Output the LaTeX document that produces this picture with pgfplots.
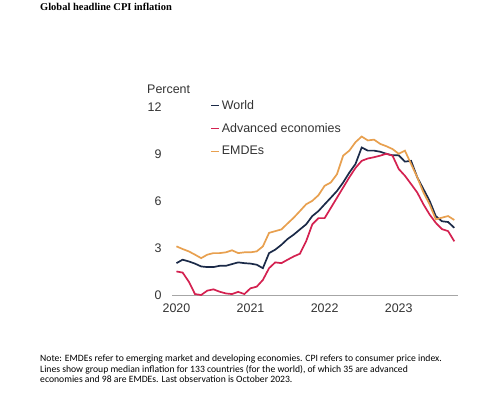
\documentclass[border=0pt]{standalone}
\usepackage{fontspec}
\setmainfont{Liberation Sans}
\newfontfamily\titlefont{Liberation Serif}
\newfontfamily\notefont{Carlito}
\usepackage{pgfplots}
\pgfplotsset{compat=1.18}
\usepackage{pgfplotstable}
\definecolor{world}{HTML}{1B2A48}
\definecolor{adv}{HTML}{D42150}
\definecolor{emde}{HTML}{E8A04F}
\definecolor{tickc}{HTML}{333333}

\pgfplotstableread{
m world adv emde
0 2.03 1.50 3.10
1 2.25 1.43 2.93
2 2.14 0.85 2.78
3 2.00 0.06 2.57
4 1.82 0.00 2.35
5 1.78 0.28 2.57
6 1.78 0.36 2.67
7 1.86 0.21 2.67
8 1.86 0.10 2.72
9 1.97 0.06 2.85
10 2.08 0.20 2.67
11 2.03 0.06 2.72
12 2.00 0.43 2.72
13 1.93 0.53 2.78
14 1.71 0.96 3.10
15 2.67 1.71 3.96
16 2.89 2.08 4.07
17 3.20 2.03 4.18
18 3.57 2.25 4.56
19 3.85 2.46 4.93
20 4.18 2.63 5.35
21 4.50 3.42 5.78
22 5.03 4.50 6.00
23 5.35 4.90 6.36
24 5.78 4.90 6.96
25 6.20 5.55 7.17
26 6.63 6.20 7.70
27 7.17 6.85 8.88
28 7.80 7.50 9.20
29 8.35 8.10 9.74
30 9.40 8.55 10.10
31 9.20 8.70 9.85
32 9.20 8.78 9.90
33 9.13 8.88 9.63
34 9.00 9.00 9.48
35 8.90 8.88 9.30
36 8.90 8.03 9.00
37 8.50 7.60 9.20
38 8.55 7.07 8.35
39 7.50 6.53 7.50
40 6.75 5.78 6.53
41 6.00 5.13 5.78
42 5.03 4.60 4.82
43 4.70 4.20 4.93
44 4.65 4.07 5.03
45 4.28 3.42 4.78
}\datatable

\begin{document}
\begin{tikzpicture}[x=1bp,y=1bp]
\useasboundingbox (0,0) rectangle (486,393);
\fill[white] (0,0) rectangle (486,393);
\node[anchor=west, inner sep=0pt, font=\titlefont\bfseries\fontsize{10.5}{11}\selectfont] at (40,386) {Global headline CPI inflation};
\begin{axis}[
  at={(172bp,98bp)}, anchor=south west,
  scale only axis, width=286bp, height=188.3bp,
  xmin=2019.94, xmax=2023.80, ymin=0, ymax=12,
  axis y line*=left,
  axis x line*=bottom,
  y axis line style={draw=none},
  x axis line style={draw=gray!70, line width=0.8pt, -},
  xtick={2020,2021,2022,2023},
  ytick={0,3,6,9,12},
  major tick length=0pt,
  clip=false,
  xticklabel style={font=\fontsize{12.5}{14}\selectfont, text=tickc, yshift=-5bp},
  yticklabel style={font=\fontsize{12.5}{14}\selectfont, text=tickc, xshift=-7bp},
  /pgf/number format/assume math mode=true,
  /pgf/number format/1000 sep={},
  legend style={draw=none, fill=none, at={(0.133,1.045)}, anchor=north west,
    font=\fontsize{12.5}{14}\selectfont, text=tickc, row sep=8.5bp, inner sep=0pt},
  legend cell align=left,
  legend image code/.code={\draw[#1, line width=1.6pt] (0bp,0bp) -- (8bp,0bp);},
]
\addplot[world, line width=1.7pt] table[x expr=2020+\thisrow{m}/12, y=world] {\datatable};
\addlegendentry{World}
\addplot[adv, line width=1.7pt] table[x expr=2020+\thisrow{m}/12, y=adv] {\datatable};
\addlegendentry{Advanced economies}
\addplot[emde, line width=1.7pt] table[x expr=2020+\thisrow{m}/12, y=emde] {\datatable};
\addlegendentry{EMDEs}
\end{axis}
\node[anchor=west, inner sep=0pt, font=\fontsize{12.5}{14}\selectfont, text=tickc] at (147,304) {Percent};
\node[anchor=north west, inner sep=0pt, align=left, font=\notefont\fontsize{9.7}{10.8}\selectfont] at (40,38.5) {Note: EMDEs refer to emerging market and developing economies. CPI refers to consumer price index.\\Lines show group median inflation for 133 countries (for the world), of which 35 are advanced\\economies and 98 are EMDEs. Last observation is October 2023.};
\end{tikzpicture}
\end{document}
